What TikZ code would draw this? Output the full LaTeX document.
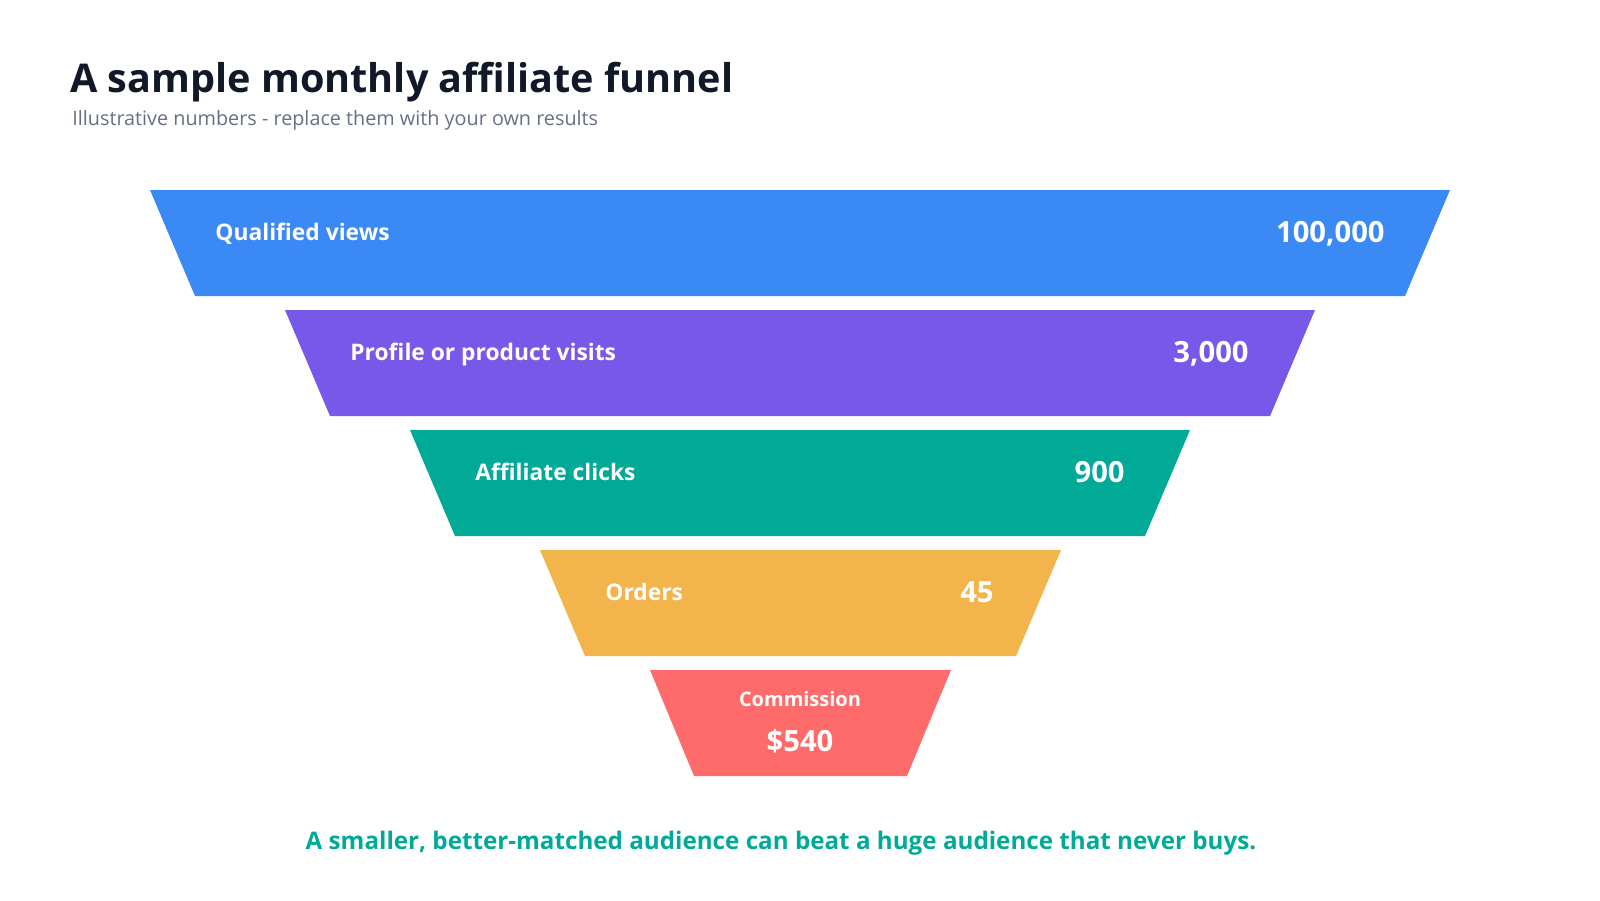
\documentclass[tikz,border=0pt]{standalone}
\usepackage{fontspec}
\setmainfont{Open Sans}[BoldFont={Open Sans Bold}]
\usepackage{tikz}

\definecolor{bandblue}{HTML}{3B89F5}
\definecolor{bandpurple}{HTML}{7858E8}
\definecolor{bandteal}{HTML}{00AA97}
\definecolor{bandamber}{HTML}{F2B44B}
\definecolor{bandred}{HTML}{FF6B6B}
\definecolor{titleink}{HTML}{111827}
\definecolor{subink}{HTML}{667085}

\tikzset{
  stagelabel/.style={text=white,font=\bfseries\fontsize{11.4}{13}\selectfont,inner sep=0pt},
  stagevalue/.style={text=white,font=\bfseries\fontsize{14.6}{16}\selectfont,inner sep=0pt},
}

\begin{document}
\begin{tikzpicture}[x=0.5pt,y=-0.5pt]
\useasboundingbox (0,0) rectangle (1600,900);
% title
\node[anchor=base west,inner sep=0pt,text=titleink,font=\bfseries\fontsize{19.8}{24}\selectfont] (title) at (70,92) {A sample monthly affiliate funnel};
\node[anchor=base west,inner sep=0pt,text=subink,font=\fontsize{9.9}{12}\selectfont] (subtitle) at (72,125) {Illustrative numbers - replace them with your own results};
% funnel bands
\fill[bandblue] (150,190)--(1450,190)--(1405,296)--(195,296)--cycle;
\node[stagelabel,anchor=base west] (views) at (215,240) {Qualified views};
\node[stagevalue,anchor=base east] (viewsnum) at (1385,242) {100,000};
\fill[bandpurple] (285,310)--(1315,310)--(1270,416)--(330,416)--cycle;
\node[stagelabel,anchor=base west] (visits) at (350,360) {Profile or product visits};
\node[stagevalue,anchor=base east] (visitsnum) at (1249,362) {3,000};
\fill[bandteal] (410,430)--(1190,430)--(1145,536)--(455,536)--cycle;
\node[stagelabel,anchor=base west] (clicks) at (475,480) {Affiliate clicks};
\node[stagevalue,anchor=base east] (clicksnum) at (1125,482) {900};
\fill[bandamber] (540,550)--(1061,550)--(1016,656)--(585,656)--cycle;
\node[stagelabel,anchor=base west] (orders) at (605,600) {Orders};
\node[stagevalue,anchor=base east] (ordersnum) at (994,602) {45};
\fill[bandred] (650,670)--(951,670)--(907,776)--(694,776)--cycle;
\node[stagelabel,anchor=base,font=\bfseries\fontsize{10}{12}\selectfont] (commission) at (800,706) {Commission};
\node[stagevalue,anchor=base] (commissionnum) at (800,751) {\$540};
% takeaway
\node[anchor=base,inner sep=0pt,text=bandteal,font=\bfseries\fontsize{12.1}{14}\selectfont] (takeaway) at (781,849) {A smaller, better-matched audience can beat a huge audience that never buys.};
\end{tikzpicture}
\end{document}
